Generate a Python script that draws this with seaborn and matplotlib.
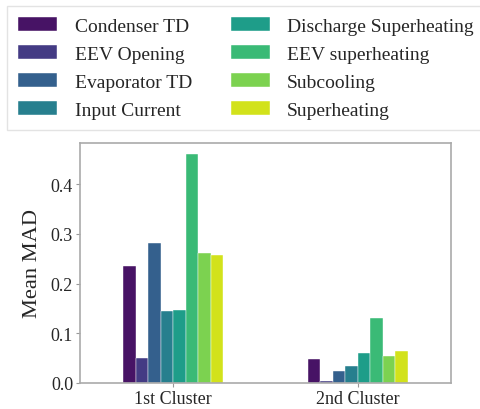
import matplotlib
matplotlib.use("Agg")
import matplotlib.pyplot as plt
import seaborn as sns
import pandas as pd
import numpy as np

clusters = ["1st Cluster", "2nd Cluster"]
features = ["Condenser TD", "EEV Opening", "Evaporator TD", "Input Current",
            "Discharge Superheating", "EEV superheating", "Subcooling", "Superheating"]
cluster1 = [0.235, 0.051, 0.281, 0.144, 0.147, 0.460, 0.261, 0.258]
cluster2 = [0.048, 0.004, 0.024, 0.034, 0.061, 0.131, 0.055, 0.065]

rows = []
for f, v1, v2 in zip(features, cluster1, cluster2):
    rows.append({"Cluster": clusters[0], "Feature": f, "MAD": v1})
    rows.append({"Cluster": clusters[1], "Feature": f, "MAD": v2})
df = pd.DataFrame(rows)

sns.set_style("white")
plt.rcParams["font.family"] = ["Liberation Serif", "DejaVu Serif"]

fig = plt.figure(figsize=(4.81, 4.10), dpi=100)
ax = fig.add_axes([80/481, 1-384/410, (451-80)/481, (384-144)/410])

palette = [matplotlib.cm.viridis(v) for v in np.linspace(0.05, 0.93, len(features))]
sns.barplot(data=df, x="Cluster", y="MAD", hue="Feature", hue_order=features,
            order=clusters, palette=palette, width=0.54, ax=ax,
            edgecolor="white", linewidth=0.3, saturation=1, legend=True)

ax.set_xlabel("")
ax.set_ylabel("Mean MAD", fontsize=16.2, labelpad=6)
ax.set_yticks([0.0, 0.1, 0.2, 0.3, 0.4])
ax.set_yticklabels(["0.0", "0.1", "0.2", "0.3", "0.4"])
ax.tick_params(axis="both", labelsize=13, length=3, color="#999999", width=0.8,
               left=True, bottom=True, pad=2)
for s in ax.spines.values():
    s.set_color("#aaaaaa")
    s.set_linewidth(1.2)
ax.set_xlim(-0.505, 1.505)

handles, labels = ax.get_legend_handles_labels()
ax.get_legend().remove()
leg = fig.legend(handles, labels, ncol=2, loc="upper left",
                 bbox_to_anchor=(7/481, 1-7/410), borderaxespad=0,
                 fontsize=14, handlelength=2.0, handletextpad=0.9,
                 columnspacing=2.0, labelspacing=0.53, borderpad=0.58,
                 frameon=True, fancybox=False, edgecolor="#dddddd")
leg.get_frame().set_linewidth(1.0)

fig.savefig("out.png", dpi=100)
